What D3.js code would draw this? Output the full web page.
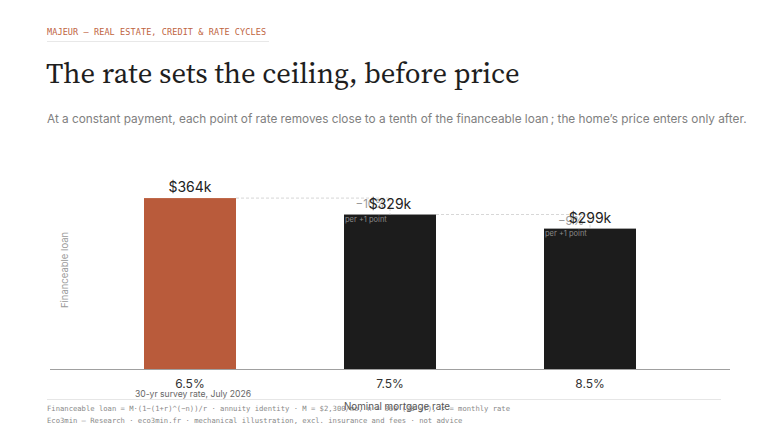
<!DOCTYPE html>
<html>
<head>
<meta charset="utf-8">
<style>
body{
  margin:0;
  background:#fff;
}
svg text{ font-family: Inter, "Noto Sans", sans-serif; }
.mono{ font-family: "DejaVu Sans Mono", "Liberation Mono", monospace; }
.serif{ font-family: "Source Serif 4", "Liberation Serif", "DejaVu Serif", serif; }
</style>
</head>
<body>
<svg id="chart"></svg>
<script src="https://cdn.jsdelivr.net/npm/d3@7/dist/d3.min.js"></script>
<script>
// data
var rates = ['6.5%', '7.5%', '8.5%'];
var loans = [364, 329, 299];           // $k
var changes = ['', '\u221210%', '\u22129%'];
var notes = ['30-yr survey rate, July 2026', '', ''];
var colors = ['#b95b3b', '#1c1c1c', '#1c1c1c'];

var width = 768, height = 432;
var base = 369;

var svg = d3.select('#chart')
    .attr('width', width)
    .attr('height', height);

var data = rates.map(function (r, i) {
    return {rate: r, loan: loans[i], change: changes[i], note: notes[i], color: colors[i]};
});

var x = d3.scaleBand().domain(rates).range([90, 690]).padding(0);
var barW = x.bandwidth() * 0.46;
var y = d3.scaleLinear().domain([0, d3.max(loans) * 1.1]).range([base, 181]);

function cx(d) { return x(d.rate) + x.bandwidth() / 2; }

// header
svg.append('text').attr('class', 'mono')
    .attr('x', 47).attr('y', 35)
    .attr('font-size', 8.5).attr('fill', '#c0643f')
    .attr('letter-spacing', 0.1)
    .text('MAJEUR \u2014 REAL ESTATE, CREDIT & RATE CYCLES');
svg.append('line')
    .attr('x1', 47).attr('x2', 269).attr('y1', 41.5).attr('y2', 41.5)
    .attr('stroke', '#e8e8e8');
svg.append('text').attr('class', 'serif')
    .attr('x', 46).attr('y', 83)
    .attr('font-size', 28.7).attr('fill', '#1e1e1e')
    .text('The rate sets the ceiling, before price');
svg.append('text')
    .attr('x', 47).attr('y', 123)
    .attr('font-size', 11.8).attr('fill', '#808080')
    .text('At a constant payment, each point of rate removes close to a tenth of the financeable loan\u2009; the home\u2019s price enters only after.');

// y label
svg.append('text')
    .attr('transform', 'translate(68,270) rotate(-90)')
    .attr('text-anchor', 'middle')
    .attr('font-size', 9.5).attr('fill', '#999')
    .text('Financeable loan');

// bars
svg.selectAll('.bar').data(data)
    .enter().append('rect')
    .attr('class', 'bar')
    .attr('x', function (d) { return cx(d) - barW / 2; })
    .attr('y', function (d) { return y(d.loan); })
    .attr('width', barW)
    .attr('height', function (d) { return base - y(d.loan); })
    .attr('fill', function (d) { return d.color; });

// connectors between bars
var steps = data.slice(1).map(function (d, i) { return {cur: d, prev: data[i]}; });
var g = svg.append('g');
steps.forEach(function (s) {
    var py = y(s.prev.loan), cy = y(s.cur.loan);
    g.append('line')
        .attr('x1', cx(s.prev) + barW / 2).attr('x2', cx(s.cur))
        .attr('y1', py).attr('y2', py)
        .attr('stroke', '#ccc').attr('stroke-dasharray', '3,2').attr('stroke-width', 0.8);
    g.append('line')
        .attr('x1', cx(s.cur)).attr('x2', cx(s.cur))
        .attr('y1', py).attr('y2', cy)
        .attr('stroke', '#ccc').attr('stroke-dasharray', '3,2').attr('stroke-width', 0.8);
    g.append('text')
        .attr('x', cx(s.cur) - 19).attr('y', py + 10)
        .attr('text-anchor', 'middle')
        .attr('font-size', 11.5).attr('fill', '#9a9a9a')
        .text(s.cur.change);
    g.append('text')
        .attr('x', cx(s.cur) - barW / 2 + 1).attr('y', cy + 7)
        .attr('font-size', 7.5).attr('fill', '#8a8a8a')
        .text('per +1 point');
});

// value labels
svg.selectAll('.val').data(data)
    .enter().append('text')
    .attr('class', 'val')
    .attr('x', cx)
    .attr('y', function (d) { return y(d.loan) - 6; })
    .attr('text-anchor', 'middle')
    .attr('font-size', 14).attr('fill', '#222')
    .text(function (d) { return '$' + d.loan + 'k'; });

// x axis
svg.append('line')
    .attr('x1', 50).attr('x2', 730).attr('y1', base + 0.5).attr('y2', base + 0.5)
    .attr('stroke', '#a0a0a0').attr('stroke-width', 1);
var ax = svg.append('g')
    .attr('transform', 'translate(0,' + base + ')')
    .call(d3.axisBottom(x).tickSize(0).tickPadding(10));
ax.select('.domain').remove();
ax.selectAll('text')
    .attr('font-size', 12).attr('fill', '#333')
    .attr('font-family', 'Inter, sans-serif');

svg.selectAll('.note').data(data.filter(function (d) { return d.note; }))
    .enter().append('text')
    .attr('x', function (d) { return cx(d) + 3; }).attr('y', 397)
    .attr('text-anchor', 'middle')
    .attr('font-size', 8.6).attr('fill', '#666')
    .text(function (d) { return d.note; });

// footer
svg.append('line')
    .attr('x1', 47).attr('x2', 721).attr('y1', 399.5).attr('y2', 399.5)
    .attr('stroke', '#e6e6e6');
svg.append('text').attr('class', 'mono')
    .attr('x', 47).attr('y', 411)
    .attr('font-size', 7.2).attr('fill', '#888')
    .text('Financeable loan = M\u00b7(1\u2212(1+r)^(\u2212n))/r  \u00b7  annuity identity  \u00b7  M = $2,300/mo, n = 360 (30 yr), r = monthly rate');
svg.append('text').attr('class', 'mono')
    .attr('x', 47).attr('y', 423)
    .attr('font-size', 7.2).attr('fill', '#888')
    .text('Eco3min \u2014 Research  \u00b7  eco3min.fr  \u00b7  mechanical illustration, excl. insurance and fees  \u00b7  not advice');
svg.append('text')
    .attr('x', 397).attr('y', 410)
    .attr('text-anchor', 'middle')
    .attr('font-size', 9.8).attr('fill', '#555')
    .text('Nominal mortgage rate');
</script>
</body>
</html>
